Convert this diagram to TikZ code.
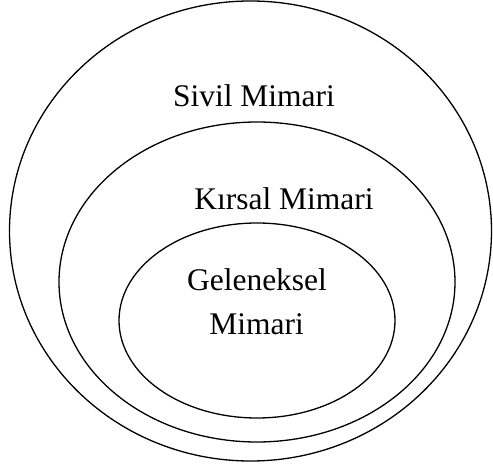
\documentclass[tikz,border=0pt]{standalone}
\usepackage{fontspec}
\setmainfont{Liberation Serif}
\begin{document}
\begin{tikzpicture}[x=1pt,y=-1pt,
  ring/.style={draw=black,line width=1.3pt},
  lbl/.style={anchor=base,inner sep=0pt,font=\fontsize{31.5}{37}\selectfont}]
\useasboundingbox (0,0) rectangle (493,468);
\draw[ring] (250.5,231) ellipse [x radius=241,y radius=230];
\draw[ring] (257,282) ellipse [x radius=198,y radius=160];
\draw[ring] (257,320.5) ellipse [x radius=138,y radius=97.5];
\node[lbl] (sivil) at (254,107) {Sivil Mimari};
\node[lbl] (kirsal) at (284,209) {Kırsal Mimari};
\node[lbl] (gel) at (257,290.5) {Geleneksel};
\node[lbl] (mim) at (256.5,334) {Mimari};
\end{tikzpicture}
\end{document}
